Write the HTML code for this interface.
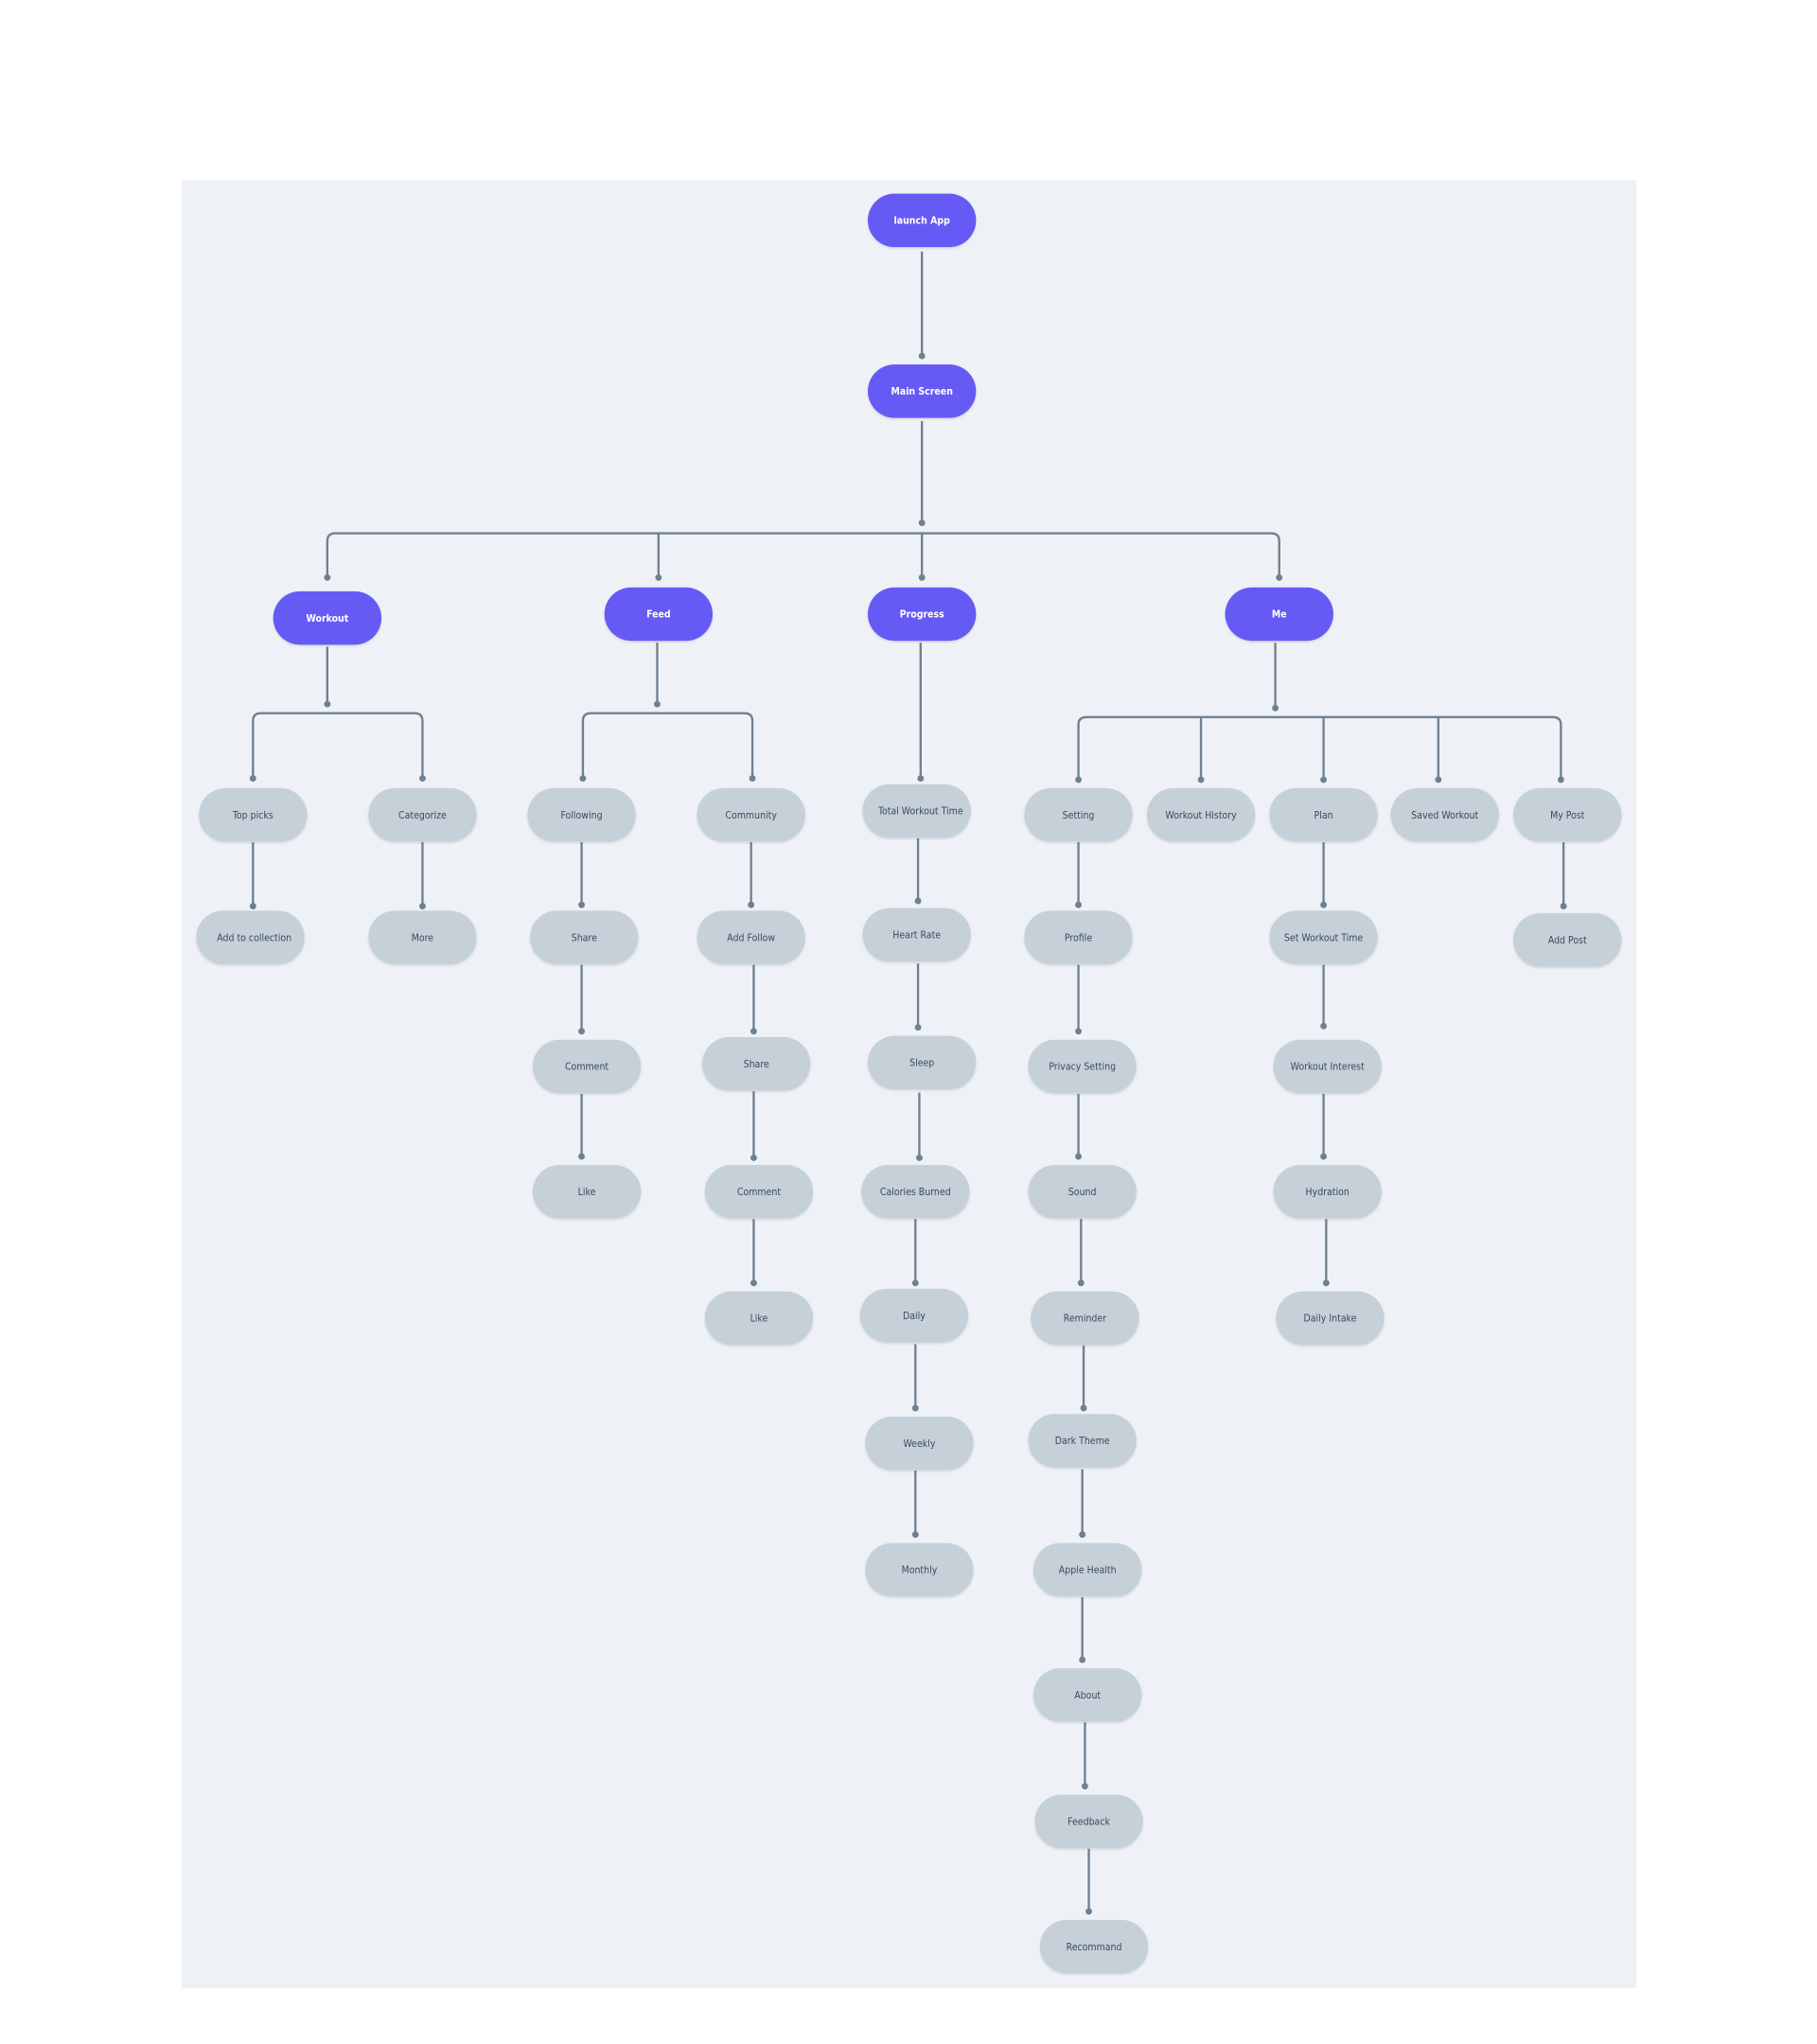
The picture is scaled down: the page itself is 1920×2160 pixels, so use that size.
<!DOCTYPE html>
<html><head><meta charset="utf-8"><style>
html,body{margin:0;padding:0;background:#fff;width:1920px;height:2160px;overflow:hidden}
svg{display:block}
text{font-family:"DejaVu Sans Condensed","Liberation Sans",sans-serif;font-size:7.6px;text-anchor:middle;dominant-baseline:central}
.p rect{fill:#665AF5}
.p text{fill:#fff;font-weight:bold}
.g rect{fill:#C5D0D9}
.g text{fill:#3D4A58}
.l{stroke:#6F8090;stroke-width:1.7;fill:none}
.d{fill:#6F8090}
</style></head><body>
<svg width="1920" height="2160" viewBox="0 0 1393.4 1567.7" preserveAspectRatio="none" xmlns="http://www.w3.org/2000/svg">
<defs><filter id="s" x="-20%" y="-30%" width="140%" height="160%"><feDropShadow dx="0" dy="1" stdDeviation="1" flood-color="#000" flood-opacity="0.12"/></filter></defs>
<rect x="139" y="138" width="1116" height="1387" fill="#EEF2F6"/>
<g class="l">
<path d="M707 193V273"/><path d="M707 323V401"/>
<path d="M251 443V415Q251 409 257 409H975Q981 409 981 415V443"/>
<path d="M505 409V443M707 409V443"/>
<path d="M251 496V540"/>
<path d="M194 597V553Q194 547 200 547H318Q324 547 324 553V597"/>
<path d="M194 646V695M324 646V695"/>
<path d="M504 493V540"/>
<path d="M447 597V553Q447 547 453 547H571Q577 547 577 553V597"/>
<path d="M446 646V694M446 740V791M446 839V887"/>
<path d="M576 646V694M578 740V791M578 837V888M578 935V984"/>
<path d="M706 493V597"/>
<path d="M704 643V691M704 739V788M705 838V888M702 935V984M702 1031V1080M702 1128V1177"/>
<path d="M978 493V543"/>
<path d="M827 598V556Q827 550 833 550H1191Q1197 550 1197 556V598"/>
<path d="M921 550V598M1015 550V598M1103 550V598"/>
<path d="M827 646V694M827 740V791M827 839V887M829 935V984M831 1032V1080M830 1127V1177M830 1225V1273M832 1321V1370M835 1418V1466"/>
<path d="M1015 646V694M1015 740V787M1015 839V887M1017 935V984"/>
<path d="M1199 646V695"/>
</g>
<g class="d">
<circle cx="707" cy="273" r="2.5"/><circle cx="707" cy="401" r="2.5"/>
<circle cx="251" cy="443" r="2.5"/><circle cx="505" cy="443" r="2.5"/><circle cx="707" cy="443" r="2.5"/><circle cx="981" cy="443" r="2.5"/>
<circle cx="251" cy="540" r="2.5"/><circle cx="194" cy="597" r="2.5"/><circle cx="324" cy="597" r="2.5"/>
<circle cx="194" cy="695" r="2.5"/><circle cx="324" cy="695" r="2.5"/>
<circle cx="504" cy="540" r="2.5"/><circle cx="447" cy="597" r="2.5"/><circle cx="577" cy="597" r="2.5"/>
<circle cx="446" cy="694" r="2.5"/><circle cx="446" cy="791" r="2.5"/><circle cx="446" cy="887" r="2.5"/>
<circle cx="576" cy="694" r="2.5"/><circle cx="578" cy="791" r="2.5"/><circle cx="578" cy="888" r="2.5"/><circle cx="578" cy="984" r="2.5"/>
<circle cx="706" cy="597" r="2.5"/><circle cx="704" cy="691" r="2.5"/><circle cx="704" cy="788" r="2.5"/><circle cx="705" cy="888" r="2.5"/><circle cx="702" cy="984" r="2.5"/><circle cx="702" cy="1080" r="2.5"/><circle cx="702" cy="1177" r="2.5"/>
<circle cx="978" cy="543" r="2.5"/><circle cx="827" cy="598" r="2.5"/><circle cx="921" cy="598" r="2.5"/><circle cx="1015" cy="598" r="2.5"/><circle cx="1103" cy="598" r="2.5"/><circle cx="1197" cy="598" r="2.5"/>
<circle cx="827" cy="694" r="2.5"/><circle cx="827" cy="791" r="2.5"/><circle cx="827" cy="887" r="2.5"/><circle cx="829" cy="984" r="2.5"/><circle cx="831" cy="1080" r="2.5"/><circle cx="830" cy="1177" r="2.5"/><circle cx="830" cy="1273" r="2.5"/><circle cx="832" cy="1370" r="2.5"/><circle cx="835" cy="1466" r="2.5"/>
<circle cx="1015" cy="694" r="2.5"/><circle cx="1015" cy="787" r="2.5"/><circle cx="1015" cy="887" r="2.5"/><circle cx="1017" cy="984" r="2.5"/>
<circle cx="1199" cy="695" r="2.5"/>
</g>
<g class="p" filter="url(#s)">
<rect x="665.5" y="148.5" width="83" height="41" rx="20.5"/><text x="707" y="169.5">launch App</text>
<rect x="665.5" y="279.5" width="83" height="41" rx="20.5"/><text x="707" y="300.5">Main Screen</text>
<rect x="209.5" y="453.5" width="83" height="41" rx="20.5"/><text x="251" y="474.5">Workout</text>
<rect x="463.5" y="450.5" width="83" height="41" rx="20.5"/><text x="505" y="471.5">Feed</text>
<rect x="665.5" y="450.5" width="83" height="41" rx="20.5"/><text x="707" y="471.5">Progress</text>
<rect x="939.5" y="450.5" width="83" height="41" rx="20.5"/><text x="981" y="471.5">Me</text>
</g>
<g class="g" filter="url(#s)">
<rect x="152.5" y="604.5" width="83" height="41" rx="20.5"/><text x="194" y="625.5">Top picks</text>
<rect x="282.5" y="604.5" width="83" height="41" rx="20.5"/><text x="324" y="625.5">Categorize</text>
<rect x="150.5" y="698.5" width="83" height="41" rx="20.5"/><text x="195" y="719.5">Add to collection</text>
<rect x="282.5" y="698.5" width="83" height="41" rx="20.5"/><text x="324" y="719.5">More</text>
<rect x="404.5" y="604.5" width="83" height="41" rx="20.5"/><text x="446" y="625.5">Following</text>
<rect x="534.5" y="604.5" width="83" height="41" rx="20.5"/><text x="576" y="625.5">Community</text>
<rect x="406.5" y="698.5" width="83" height="41" rx="20.5"/><text x="448" y="719.5">Share</text>
<rect x="408.5" y="797.5" width="83" height="41" rx="20.5"/><text x="450" y="818.5">Comment</text>
<rect x="408.5" y="893.5" width="83" height="41" rx="20.5"/><text x="450" y="914.5">Like</text>
<rect x="534.5" y="698.5" width="83" height="41" rx="20.5"/><text x="576" y="719.5">Add Follow</text>
<rect x="538.5" y="795.5" width="83" height="41" rx="20.5"/><text x="580" y="816.5">Share</text>
<rect x="540.5" y="893.5" width="83" height="41" rx="20.5"/><text x="582" y="914.5">Comment</text>
<rect x="540.5" y="990.5" width="83" height="41" rx="20.5"/><text x="582" y="1011.5">Like</text>
<rect x="661.5" y="601.5" width="83" height="41" rx="20.5"/><text x="706" y="622.5">Total Workout Time</text>
<rect x="661.5" y="696.5" width="83" height="41" rx="20.5"/><text x="703" y="717.5">Heart Rate</text>
<rect x="665.5" y="794.5" width="83" height="41" rx="20.5"/><text x="707" y="815.5">Sleep</text>
<rect x="660.5" y="893.5" width="83" height="41" rx="20.5"/><text x="702" y="914.5">Calories Burned</text>
<rect x="659.5" y="988.5" width="83" height="41" rx="20.5"/><text x="701" y="1009.5">Daily</text>
<rect x="663.5" y="1086.5" width="83" height="41" rx="20.5"/><text x="705" y="1107.5">Weekly</text>
<rect x="663.5" y="1183.5" width="83" height="41" rx="20.5"/><text x="705" y="1204.5">Monthly</text>
<rect x="785.5" y="604.5" width="83" height="41" rx="20.5"/><text x="827" y="625.5">Setting</text>
<rect x="879.5" y="604.5" width="83" height="41" rx="20.5"/><text x="921" y="625.5">Workout History</text>
<rect x="973.5" y="604.5" width="83" height="41" rx="20.5"/><text x="1015" y="625.5">Plan</text>
<rect x="1066.5" y="604.5" width="83" height="41" rx="20.5"/><text x="1108" y="625.5">Saved Workout</text>
<rect x="1160.5" y="604.5" width="83" height="41" rx="20.5"/><text x="1202" y="625.5">My Post</text>
<rect x="785.5" y="698.5" width="83" height="41" rx="20.5"/><text x="827" y="719.5">Profile</text>
<rect x="788.5" y="797.5" width="83" height="41" rx="20.5"/><text x="830" y="818.5">Privacy Setting</text>
<rect x="788.5" y="893.5" width="83" height="41" rx="20.5"/><text x="830" y="914.5">Sound</text>
<rect x="790.5" y="990.5" width="83" height="41" rx="20.5"/><text x="832" y="1011.5">Reminder</text>
<rect x="788.5" y="1084.5" width="83" height="41" rx="20.5"/><text x="830" y="1105.5">Dark Theme</text>
<rect x="792.5" y="1183.5" width="83" height="41" rx="20.5"/><text x="834" y="1204.5">Apple Health</text>
<rect x="792.5" y="1279.5" width="83" height="41" rx="20.5"/><text x="834" y="1300.5">About</text>
<rect x="793.5" y="1376.5" width="83" height="41" rx="20.5"/><text x="835" y="1397.5">Feedback</text>
<rect x="797.5" y="1472.5" width="83" height="41" rx="20.5"/><text x="839" y="1493.5">Recommand</text>
<rect x="973.5" y="698.5" width="83" height="41" rx="20.5"/><text x="1015" y="719.5">Set Workout Time</text>
<rect x="976.5" y="797.5" width="83" height="41" rx="20.5"/><text x="1018" y="818.5">Workout Interest</text>
<rect x="976.5" y="893.5" width="83" height="41" rx="20.5"/><text x="1018" y="914.5">Hydration</text>
<rect x="978.5" y="990.5" width="83" height="41" rx="20.5"/><text x="1020" y="1011.5">Daily Intake</text>
<rect x="1160.5" y="700.5" width="83" height="41" rx="20.5"/><text x="1202" y="721.5">Add Post</text>
</g>
</svg>
</body></html>
